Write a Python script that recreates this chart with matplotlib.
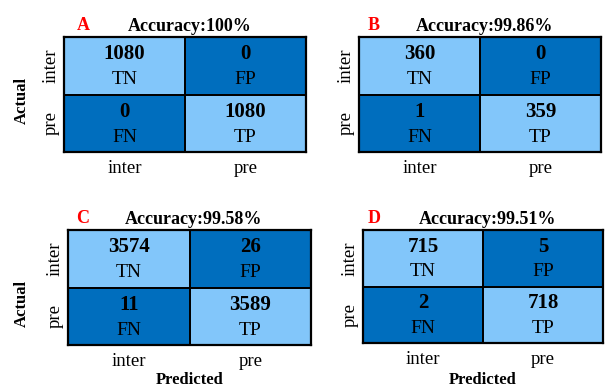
import matplotlib
matplotlib.use("Agg")
import matplotlib.pyplot as plt
import numpy as np
from matplotlib.colors import ListedColormap

plt.rcParams['font.family'] = ['Liberation Serif', 'DejaVu Serif']

# Confusion matrices: rows = actual (inter, pre), cols = predicted (inter, pre)
panel_letters = ["A", "B", "C", "D"]
accuracies = ["100%", "99.86%", "99.58%", "99.51%"]
matrix_A = [[1080, 0], [0, 1080]]
matrix_B = [[360, 0], [1, 359]]
matrix_C = [[3574, 26], [11, 3589]]
matrix_D = [[715, 5], [2, 718]]
matrices = [matrix_A, matrix_B, matrix_C, matrix_D]
cell_names = [["TN", "FP"], ["FN", "TP"]]
class_labels = ["inter", "pre"]

W, H = 606, 389
fig = plt.figure(figsize=(W / 100, H / 100), dpi=100)

# axes boxes in pixels: (left, right, top, bottom)
boxes = [(64, 306, 37, 152), (359, 601, 37, 152),
         (68, 311, 230, 345), (363, 603, 230, 343)]
# horizontal offset of each panel letter from its axes' left edge (pixels)
letter_dx = [19, 15, 15, 11]

light = "#82C6FA"
dark = "#006EBE"
cmap = ListedColormap([dark, light])

for i, (mat, box) in enumerate(zip(matrices, boxes)):
    l, r, t, b = box
    ax = fig.add_axes([l / W, 1 - b / H, (r - l) / W, (b - t) / H])
    mat = np.array(mat)
    diag = np.eye(2)
    ax.pcolormesh(np.arange(3), np.arange(3), diag, cmap=cmap,
                  edgecolors="black", linewidth=1.4, vmin=0, vmax=1)
    ax.set_xlim(0, 2)
    ax.set_ylim(2, 0)
    for rr in range(2):
        for cc in range(2):
            ax.text(cc + 0.5, rr + 0.3, str(mat[rr, cc]), ha="center", va="center",
                    fontsize=15, fontweight="bold", color="black")
            ax.text(cc + 0.5, rr + 0.74, cell_names[rr][cc], ha="center", va="center",
                    fontsize=14, color="black")
    for s in ax.spines.values():
        s.set_linewidth(1.6)
        s.set_color("black")
    ax.set_xticks([0.5, 1.5])
    ax.set_xticklabels(class_labels, fontsize=13.5)
    ax.set_yticks([0.5, 1.5])
    ax.set_yticklabels(class_labels, fontsize=13.5, rotation=90, va="center")
    ax.tick_params(axis="x", length=0, pad=6)
    ax.tick_params(axis="y", length=0, pad=3)
    ax.set_title("Accuracy:" + accuracies[i], fontsize=13, fontweight="bold",
                 pad=4, x=0.5 + 4.5 / (r - l))
    ax.text(letter_dx[i] / (r - l), 1.03, panel_letters[i], transform=ax.transAxes,
            color="red", fontsize=13, fontweight="bold", ha="center", va="bottom")
    if i in (0, 2):
        cy = 100 if i == 0 else 303
        fig.text(22 / W, 1 - cy / H, "Actual", rotation=90, fontsize=12,
                 fontweight="bold", ha="center", va="center")
    if i in (2, 3):
        fig.text((l + r) / 2 / W, 1 - 380 / H, "Predicted", fontsize=12,
                 fontweight="bold", ha="center", va="center")

fig.savefig("out.png", dpi=100)
